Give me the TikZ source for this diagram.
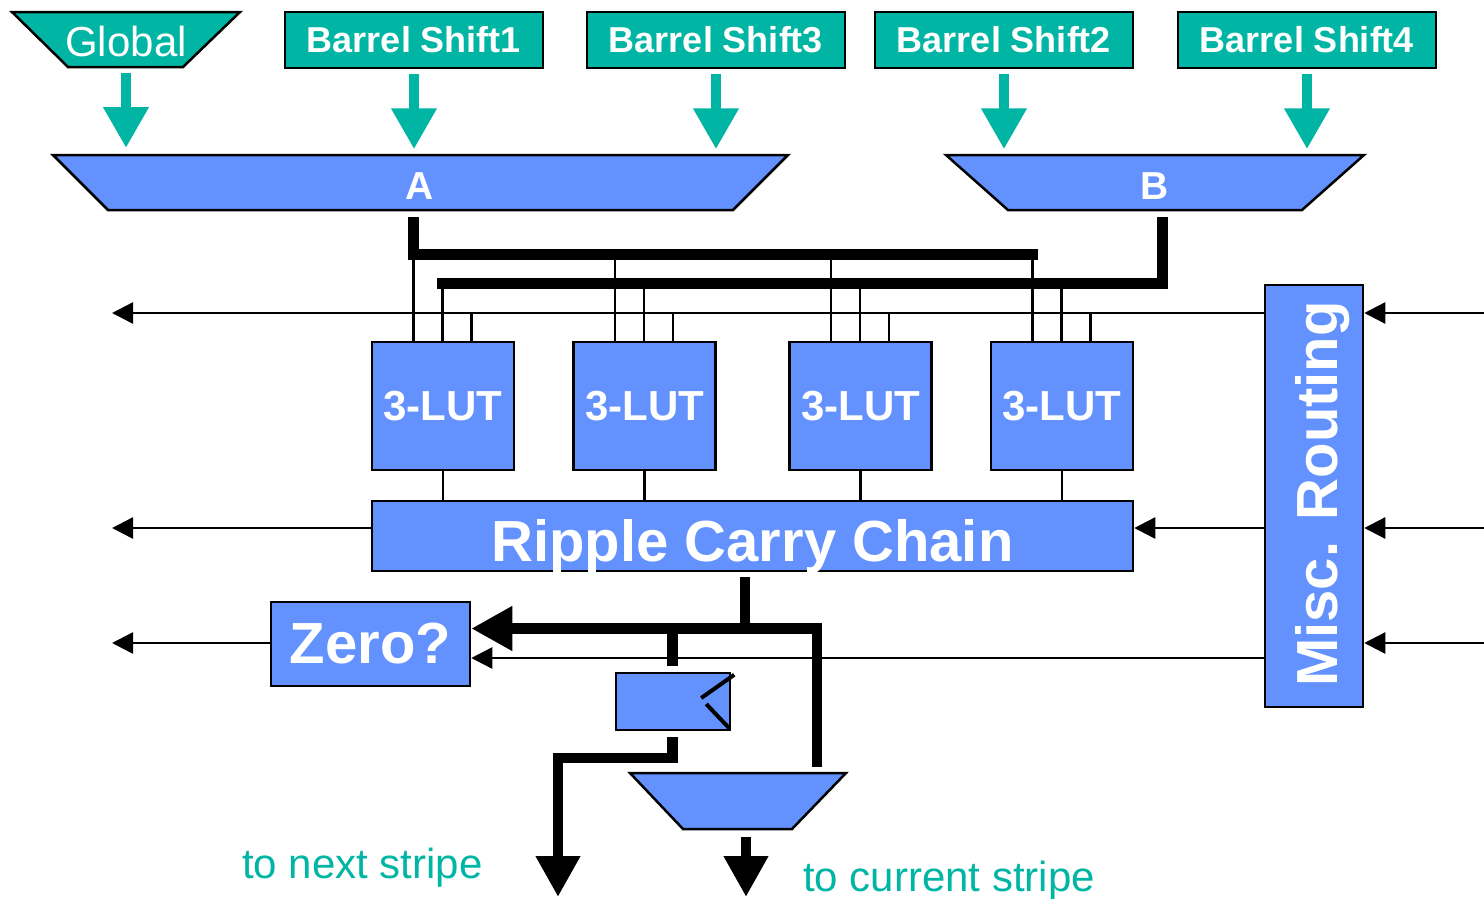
\documentclass[tikz,border=0pt]{standalone}
\usepackage{fontspec}
\setmainfont{Liberation Sans}
\usetikzlibrary{arrows.meta,calc}
\definecolor{stripeteal}{RGB}{0,181,163}
\definecolor{cellblue}{RGB}{99,146,255}

\begin{document}
\begin{tikzpicture}[x=1pt,y=-1pt,
  box/.style={draw=black,line width=2.5pt,fill=cellblue,text=white,inner sep=0pt},
  srcbox/.style={draw=black,line width=2.5pt,fill=stripeteal,text=white,inner sep=0pt,
    minimum width=258pt,minimum height=56pt,font=\fontsize{36}{40}\selectfont\bfseries},
  trap/.style={draw=black,line width=2.5pt,fill=cellblue,line join=miter},
  feed/.style={stripeteal,line width=10.5pt,-{Triangle[length=41pt,width=43pt]}},
  wire/.style={line width=2.5pt},
  wirearrow/.style={line width=2.5pt,-{Triangle[length=21pt,width=21pt]}},
  bus/.style={line width=10.5pt,line join=miter},
  busarrow/.style={line width=10.5pt,line join=miter,-{Triangle[length=41pt,width=42pt]}},
  lut/.style={box,minimum width=142pt,minimum height=128pt,text depth=0pt,
    font=\fontsize{42}{46}\selectfont\bfseries},
  bigtext/.style={font=\fontsize{58}{62}\selectfont\bfseries},
  whitetext/.style={text=white,inner sep=0pt},
  caption/.style={text=stripeteal,font=\fontsize{42}{46}\selectfont,inner sep=0pt,anchor=base west}
]
\useasboundingbox (0,0) rectangle (1484,898);

% ---- operand sources ----
\draw[line width=2.5pt,fill=stripeteal,line join=miter]
  (12,12) -- (240,12) -- (183,67) -- (68,67) -- cycle;
\node[whitetext,font=\fontsize{42}{46}\selectfont] (glob) at (126,41) {Global};
\node[srcbox] (bs1) at (414,40) {Barrel Shift1};
\node[srcbox] (bs3) at (716,40) {Barrel Shift3};
\node[srcbox] (bs2) at (1004,40) {Barrel Shift2};
\node[srcbox] (bs4) at (1307,40) {Barrel Shift4};

% ---- operand multiplexers ----
\draw[trap] (53,155) -- (788,155) -- (733,210) -- (108,210) -- cycle;
\node[whitetext,font=\fontsize{39}{42}\selectfont\bfseries] (A) at (420,186) {A};
\draw[trap] (946,155) -- (1364,155) -- (1302,210) -- (1008,210) -- cycle;
\node[whitetext,font=\fontsize{39}{42}\selectfont\bfseries] (B) at (1155,186) {B};

\coordinate (gsrc) at (126,73);
\draw[feed] (gsrc) -- ++(0,75);
\foreach \s in {bs1,bs3,bs2,bs4}
  \draw[feed] ($(\s.south)+(0,5)$) -- ++(0,75);

% ---- LUTs, carry chain, routing ----
\node[lut] (l1) at (443,406) {3-LUT};
\node[lut] (l2) at (644.5,406) {3-LUT};
\node[lut] (l3) at (860.5,406) {3-LUT};
\node[lut] (l4) at (1062,406) {3-LUT};
\node[box,minimum width=761pt,minimum height=70pt] (rc) at (752.5,536) {};
\node[whitetext,bigtext,text depth=0pt] (rctext) at (752.5,540) {Ripple Carry Chain};
\node[box,bigtext,minimum width=199pt,minimum height=84pt] (zero) at (370.5,644) {Zero?};
\node[box,minimum width=98pt,minimum height=422pt] (mr) at (1314,496) {};
\node[whitetext,bigtext,rotate=90] (mrtext) at (1323,494) {Misc. Routing};

% ---- operand buses ----
\coordinate (Aout) at (413.5,217);
\coordinate (busA) at (413.5,254.5);
\coordinate (Bout) at (1162.5,217);
\coordinate (busB) at (1162.5,283.5);
\draw[bus] (Aout) -- (busA) -- (1038,254.5);
\draw[bus] (Bout) -- (busB) -- (437,283.5);

% ---- routing tracks ----
\coordinate (outR) at (112,313);
\coordinate (outC) at (112,528);
\coordinate (outZ) at (112,643);
\coordinate (inR) at (1484,313);
\coordinate (inC) at (1484,528);
\coordinate (inZ) at (1484,643);

\foreach \l in {l1,l2,l3,l4} {
  \coordinate (\l A) at ($(\l.north)+(-29.5,0)$);
  \coordinate (\l B) at ($(\l.north)+(-0.5,0)$);
  \coordinate (\l C) at ($(\l.north)+(28.5,0)$);
  \draw[wire] (\l A |- busA) -- (\l A);
  \draw[wire] (\l B |- busB) -- (\l B);
  \draw[wire] (\l C |- outR) -- (\l C);
  \draw[wire] (\l.south) -- (\l.south |- rc.north);
}

\draw[wirearrow] (mr.west |- outR) -- (outR);
\draw[wirearrow] (rc.west |- outC) -- (outC);
\draw[wirearrow] (mr.west |- outC) -- (rc.east |- outC);
\draw[wirearrow] (zero.west |- outZ) -- (outZ);
\coordinate (zq) at ($(zero.east)+(0,14)$);
\draw[wirearrow] (mr.west |- zq) -- (zq);
\draw[wirearrow] (inR) -- (mr.east |- inR);
\draw[wirearrow] (inC) -- (mr.east |- inC);
\draw[wirearrow] (inZ) -- (mr.east |- inZ);

% ---- result path ----
\node[box,minimum width=114pt,minimum height=57pt] (reg) at (673,701.5) {};
\draw[line width=4pt] ($(reg.north east)+(3,3)$) -- ($(reg.east)+(-30,-3.5)$);
\draw[line width=4pt] ($(reg.east)+(-25,2.5)$) -- ($(reg.south east)+(-2,-3)$);

\draw[trap] (630,773) -- (846,773) -- (792,829) -- (683,829) -- cycle;
\coordinate (mux) at (738,801);

\coordinate (zbus) at ($(zero.east)+(0,-15.5)$);
\coordinate (rcOut) at (745,577);
\coordinate (muxB) at (817,767);
\draw[bus] (rcOut) -- (rcOut |- zbus);
\draw[busarrow] (muxB) |- (zbus);
\draw[bus] ($(reg.north)+(-0.5,-39)$) -- ($(reg.north)+(-0.5,-6)$);

\coordinate (nextOut) at (558,897);
\coordinate (curOut) at (746,897);
\draw[busarrow] ($(reg.south)+(-0.5,6)$) |- ($(nextOut)+(0,-139)$) -- (nextOut);
\draw[busarrow] ($(mux)+(8,36)$) -- (curOut);

\node[caption] (nextlbl) at (242,878) {to next stripe};
\node[caption] (curlbl) at (803,891) {to current stripe};
\end{tikzpicture}
\end{document}
